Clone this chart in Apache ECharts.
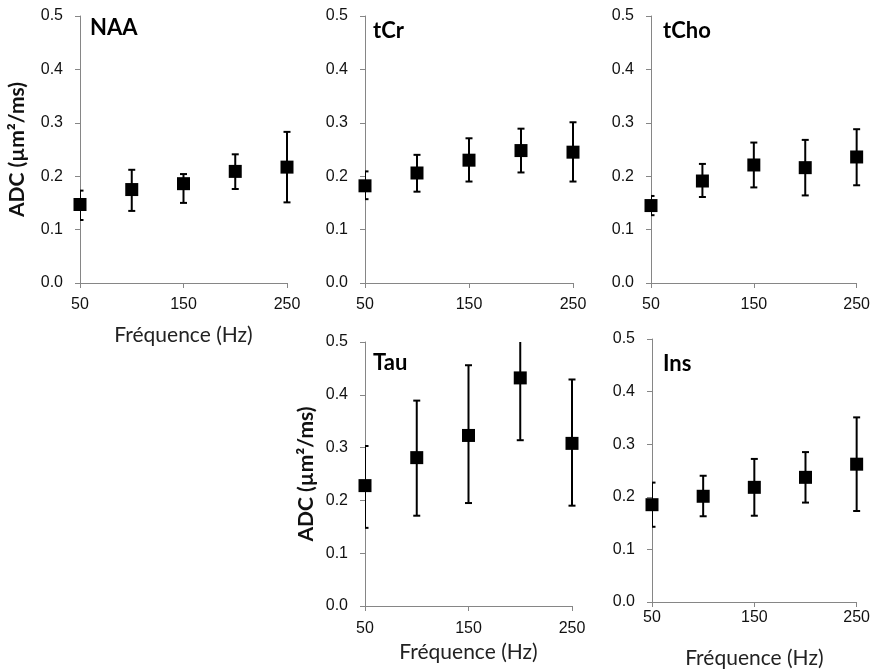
<!DOCTYPE html>
<html><head><meta charset="utf-8">
<script src="https://cdn.jsdelivr.net/npm/echarts@6/dist/echarts.min.js"></script>
<style>html,body{margin:0;padding:0;background:#fff}#c{width:873px;height:670px}</style>
</head><body><div id="c"></div>
<script>
const freq = [50, 100, 150, 200, 250];
const xTicks = [50, 150, 250];
const yTicks = [0.0, 0.1, 0.2, 0.3, 0.4, 0.5];
const panelNames = ['NAA', 'tCr', 'tCho', 'Tau', 'Ins'];

const naaMean = [0.147, 0.175, 0.186, 0.209, 0.217];
const naaLow  = [0.118, 0.135, 0.150, 0.176, 0.151];
const naaHigh = [0.173, 0.212, 0.204, 0.241, 0.283];

const tcrMean = [0.182, 0.206, 0.230, 0.248, 0.245];
const tcrLow  = [0.157, 0.171, 0.190, 0.207, 0.190];
const tcrHigh = [0.209, 0.240, 0.271, 0.289, 0.301];

const tchoMean = [0.145, 0.191, 0.221, 0.216, 0.236];
const tchoLow  = [0.127, 0.161, 0.179, 0.164, 0.183];
const tchoHigh = [0.163, 0.223, 0.263, 0.268, 0.288];

const tauMean = [0.228, 0.281, 0.323, 0.432, 0.308];
const tauLow  = [0.148, 0.171, 0.195, 0.314, 0.190];
const tauHigh = [0.303, 0.389, 0.456, 0.550, 0.429];

const insMean = [0.185, 0.201, 0.218, 0.237, 0.262];
const insLow  = [0.143, 0.163, 0.164, 0.189, 0.173];
const insHigh = [0.227, 0.240, 0.272, 0.285, 0.351];

const means = [naaMean, tcrMean, tchoMean, tauMean, insMean];
const lows = [naaLow, tcrLow, tchoLow, tauLow, insLow];
const highs = [naaHigh, tcrHigh, tchoHigh, tauHigh, insHigh];

const grids = [
  {left: 80, top: 16, width: 207, height: 267},
  {left: 365, top: 16, width: 208, height: 267},
  {left: 651, top: 16, width: 207, height: 267},
  {left: 365, top: 342, width: 207, height: 264},
  {left: 652, top: 339, width: 211, height: 263}
];
const showXName = [true, false, false, true, true];
const showYName = [true, false, false, true, false];
const xLabelMargin = [14, 14, 14, 15, 8];
const xNameGap = [42, 40, 40, 36, 46];
const yNameGap = [52, 52, 52, 48, 52];
const titlePos = [[90, 17], [373, 20], [663, 20], [373, 352], [663, 353]];

const axisColor = '#868686';
const labelFont = 'Liberation Sans';
const textFont = 'Lato';

const xAxes = [], yAxes = [], series = [], titles = [];
for (let i = 0; i < 5; i++) {
  xAxes.push({
    gridIndex: i, type: 'value', min: 50, max: 250, interval: 100,
    name: showXName[i] ? 'Fréquence (Hz)' : '', nameLocation: 'middle', nameGap: xNameGap[i],
    nameTextStyle: {fontFamily: textFont, fontSize: 21, color: '#222'},
    axisLine: {show: true, onZero: false, lineStyle: {color: axisColor, width: 1}},
    axisTick: {show: true, length: 5, lineStyle: {color: axisColor}},
    axisLabel: {fontFamily: labelFont, fontSize: 16, color: '#111', margin: xLabelMargin[i],
      formatter: v => xTicks.includes(v) ? String(v) : ''},
    splitLine: {show: false}
  });
  yAxes.push({
    gridIndex: i, type: 'value', min: 0, max: 0.5, interval: 0.1,
    name: showYName[i] ? 'ADC (µm²/ms)' : '', nameLocation: 'middle', nameGap: yNameGap[i],
    nameTextStyle: {fontFamily: textFont, fontSize: 21, fontWeight: 'bold', color: '#111'},
    axisLine: {show: true, lineStyle: {color: axisColor, width: 1}},
    axisTick: {show: true, length: 5, lineStyle: {color: axisColor}},
    axisLabel: {fontFamily: labelFont, fontSize: 16, color: '#111', margin: 17,
      formatter: v => v.toFixed(1)},
    splitLine: {show: false}
  });
  titles.push({
    text: panelNames[i], left: titlePos[i][0], top: titlePos[i][1], padding: 0,
    textStyle: {fontFamily: textFont, fontSize: 22, fontWeight: 'bold', color: '#000'}
  });
  const errData = freq.map((f, k) => [f, lows[i][k], highs[i][k]]);
  series.push({
    type: 'custom', xAxisIndex: i, yAxisIndex: i, clip: false, z: 2,
    data: errData,
    renderItem: function (params, api) {
      const cs = params.coordSys;
      const x = api.value(0);
      const lo = api.coord([x, api.value(1)]);
      const hi = api.coord([x, api.value(2)]);
      const hw = 3.5;
      const st = {stroke: '#000', lineWidth: 2};
      const topY = Math.max(hi[1], cs.y);
      const atLeft = lo[0] <= cs.x + 0.5;
      const children = [];
      if (atLeft) {
        children.push({type: 'line', shape: {x1: lo[0] + 0.5, y1: lo[1], x2: lo[0] + 0.5, y2: topY}, style: {stroke: '#000', lineWidth: 1}});
      } else {
        children.push({type: 'line', shape: {x1: lo[0], y1: lo[1], x2: lo[0], y2: topY}, style: st});
      }
      const capL = Math.max(lo[0] - hw, cs.x);
      children.push({type: 'line', shape: {x1: capL, y1: lo[1], x2: lo[0] + hw, y2: lo[1]}, style: st});
      if (hi[1] >= cs.y) {
        children.push({type: 'line', shape: {x1: capL, y1: hi[1], x2: hi[0] + hw, y2: hi[1]}, style: st});
      }
      return {type: 'group', children: children};
    }
  });
  series.push({
    type: 'scatter', xAxisIndex: i, yAxisIndex: i, clip: false, z: 3,
    symbol: 'rect', symbolSize: 13,
    itemStyle: {color: '#000', opacity: 1},
    emphasis: {disabled: true},
    data: freq.map((f, k) => [f, means[i][k]])
  });
}

const chart = echarts.init(document.getElementById('c'), null, {renderer: 'canvas'});
chart.setOption({
  animation: false,
  backgroundColor: '#fff',
  title: titles,
  grid: grids,
  xAxis: xAxes,
  yAxis: yAxes,
  series: series
});
</script>
</body></html>
